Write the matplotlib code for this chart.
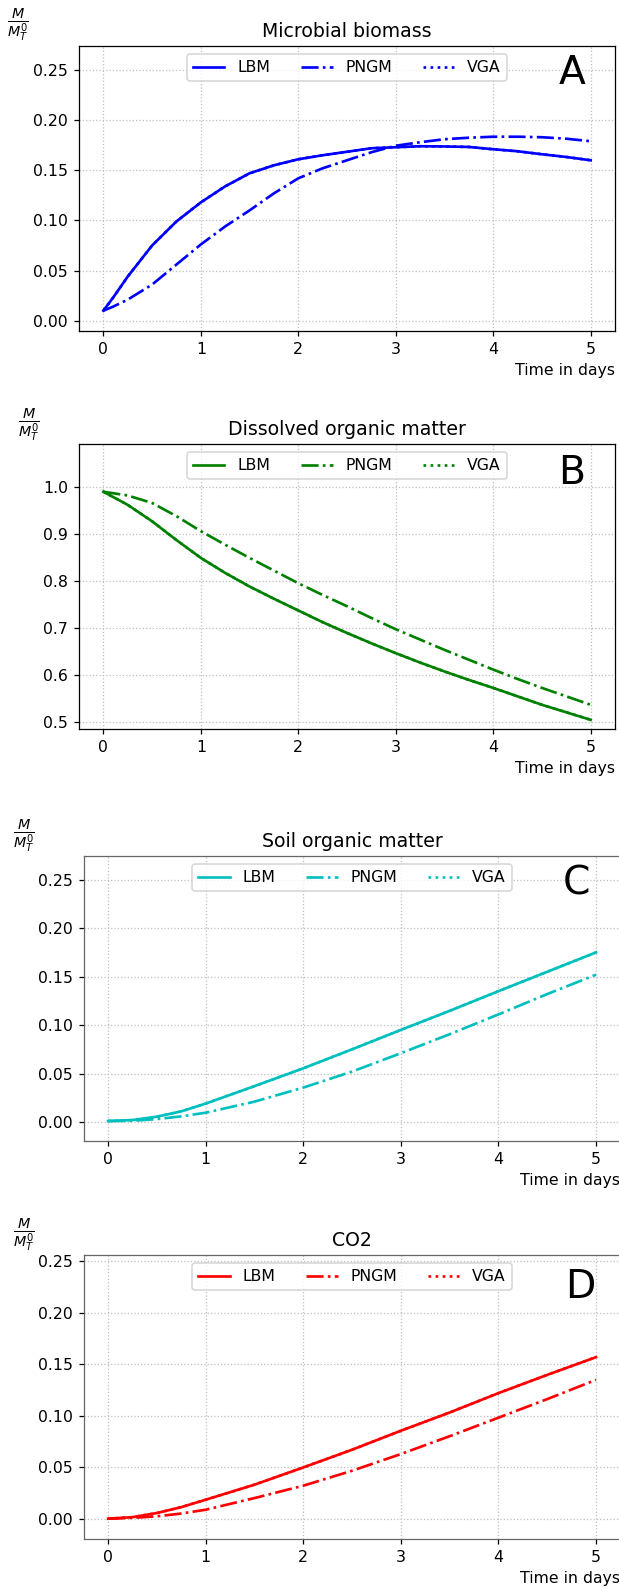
import numpy as np
import matplotlib
matplotlib.use("Agg")
import matplotlib.pyplot as plt

# time points (days)
t_a = [0, 0.1, 0.25, 0.5, 0.75, 1.0, 1.25, 1.5, 1.75, 2.0, 2.25, 2.5, 2.75, 3.0,
       3.25, 3.5, 3.75, 4.0, 4.25, 4.5, 4.75, 5.0]
t_b = [0, 0.25, 0.5, 0.75, 1.0, 1.25, 1.5, 1.75, 2.0, 2.25, 2.5, 2.75, 3.0,
       3.25, 3.5, 3.75, 4.0, 4.25, 4.5, 4.75, 5.0]
t_cd = [0, 0.25, 0.5, 0.75, 1.0, 1.5, 2.0, 2.5, 3.0, 3.5, 4.0, 4.5, 5.0]

# Microbial biomass
bio_lbm = [0.010, 0.023, 0.044, 0.075, 0.099, 0.118, 0.134, 0.147, 0.155, 0.161, 0.165,
           0.1685, 0.172, 0.173, 0.174, 0.1738, 0.1733, 0.171, 0.169, 0.166, 0.1633, 0.160]
bio_pngm = [0.010, 0.014, 0.021, 0.036, 0.056, 0.076, 0.094, 0.110, 0.127, 0.142, 0.152,
            0.160, 0.168, 0.1745, 0.178, 0.181, 0.1825, 0.1835, 0.1835, 0.183, 0.1815, 0.179]
bio_vga = [0.010, 0.023, 0.044, 0.075, 0.099, 0.118, 0.134, 0.147, 0.155, 0.161, 0.165,
           0.1685, 0.172, 0.173, 0.174, 0.1738, 0.1733, 0.171, 0.169, 0.166, 0.1633, 0.160]

# Dissolved organic matter
dom_lbm = [0.990, 0.962, 0.927, 0.887, 0.849, 0.817, 0.788, 0.762, 0.737, 0.712, 0.689,
           0.667, 0.646, 0.626, 0.607, 0.589, 0.572, 0.554, 0.536, 0.520, 0.504]
dom_pngm = [0.990, 0.982, 0.966, 0.938, 0.906, 0.877, 0.849, 0.822, 0.795, 0.770, 0.746,
            0.721, 0.697, 0.675, 0.653, 0.632, 0.611, 0.591, 0.572, 0.554, 0.536]
dom_vga = [0.990, 0.962, 0.927, 0.887, 0.849, 0.817, 0.788, 0.762, 0.737, 0.712, 0.689,
           0.667, 0.646, 0.626, 0.607, 0.589, 0.572, 0.554, 0.536, 0.520, 0.504]

# Soil organic matter
som_lbm = [0.001, 0.002, 0.0055, 0.011, 0.019, 0.037, 0.0554, 0.075, 0.095, 0.1147, 0.135, 0.155, 0.175]
som_pngm = [0.001, 0.0012, 0.003, 0.0058, 0.0096, 0.021, 0.0355, 0.052, 0.071, 0.0906, 0.111, 0.132, 0.152]
som_vga = [0.001, 0.002, 0.0055, 0.011, 0.019, 0.037, 0.0554, 0.075, 0.095, 0.1147, 0.135, 0.155, 0.175]

# CO2
co2_lbm = [0.0, 0.0015, 0.0055, 0.0112, 0.0184, 0.033, 0.0497, 0.0669, 0.0853, 0.103, 0.1218, 0.1395, 0.1567]
co2_pngm = [0.0, 0.0008, 0.0023, 0.0050, 0.0087, 0.020, 0.032, 0.0465, 0.0627, 0.080, 0.098, 0.116, 0.1347]
co2_vga = [0.0, 0.0015, 0.0055, 0.0112, 0.0184, 0.033, 0.0497, 0.0669, 0.0853, 0.103, 0.1218, 0.1395, 0.1567]

W, H = 619, 1590
DPI = 113
fig = plt.figure(figsize=(W / DPI, H / DPI), dpi=DPI)


def box(left, right, top, bottom):
    return [left / W, 1 - bottom / H, (right - left) / W, (bottom - top) / H]


panels = [
    dict(t=t_a, ys=(bio_lbm, bio_pngm, bio_vga), color="b", title="Microbial biomass",
         pos=box(79, 615, 46, 331), ylim=(-0.0103, 0.274), ticks=[0, 0.05, 0.10, 0.15, 0.20, 0.25],
         fmt="%.2f", letter="A", lpos=(0.92, 0.905), mlab=(18, 25), spine="black"),
    dict(t=t_b, ys=(dom_lbm, dom_pngm, dom_vga), color="g", title="Dissolved organic matter",
         pos=box(79, 615, 444, 729), ylim=(0.4844, 1.0917), ticks=[0.5, 0.6, 0.7, 0.8, 0.9, 1.0],
         fmt="%.1f", letter="B", lpos=(0.92, 0.90), mlab=(29, 425), spine="black"),
    dict(t=t_cd, ys=(som_lbm, som_pngm, som_vga), color="c", title="Soil organic matter",
         pos=box(83.7, 620.4, 856, 1141), ylim=(-0.0196, 0.2745), ticks=[0, 0.05, 0.10, 0.15, 0.20, 0.25],
         fmt="%.2f", letter="C", lpos=(0.919, 0.905), mlab=(23.5, 836), spine="0.4"),
    dict(t=t_cd, ys=(co2_lbm, co2_pngm, co2_vga), color="r", title="CO2",
         pos=box(83.7, 620.4, 1255, 1539), ylim=(-0.0197, 0.2558), ticks=[0, 0.05, 0.10, 0.15, 0.20, 0.25],
         fmt="%.2f", letter="D", lpos=(0.925, 0.889), mlab=(23.5, 1234.5), spine="0.4"),
]

for p in panels:
    ax = fig.add_axes(p["pos"])
    lbm, pngm, vga = p["ys"]
    ax.plot(p["t"], lbm, color=p["color"], linestyle="-", linewidth=1.7, label="LBM")
    ax.plot(p["t"], pngm, color=p["color"], linestyle="-.", linewidth=1.7, label="PNGM")
    ax.plot(p["t"], vga, color=p["color"], linestyle=":", linewidth=1.7, label="VGA")
    ax.set_xlim(-0.25, 5.25)
    ax.set_ylim(*p["ylim"])
    ax.set_xticks([0, 1, 2, 3, 4, 5])
    ax.set_yticks(p["ticks"])
    ax.set_yticklabels([p["fmt"] % v for v in p["ticks"]])
    ax.grid(True, linestyle=":", color="0.75", linewidth=0.8)
    ax.set_title(p["title"], fontsize=12)
    ax.set_xlabel("Time in days", loc="right")
    ax.legend(loc="upper center", ncol=3, fontsize=10)
    ax.text(p["lpos"][0], p["lpos"][1], p["letter"], transform=ax.transAxes,
            fontsize=25, ha="center", va="center")
    for s in ax.spines.values():
        s.set_color(p["spine"])
    fig.text(p["mlab"][0] / W, 1 - p["mlab"][1] / H, r"$\frac{M}{M_T^0}$",
             fontsize=13, ha="center", va="center")

fig.savefig("out.png", dpi=DPI)
